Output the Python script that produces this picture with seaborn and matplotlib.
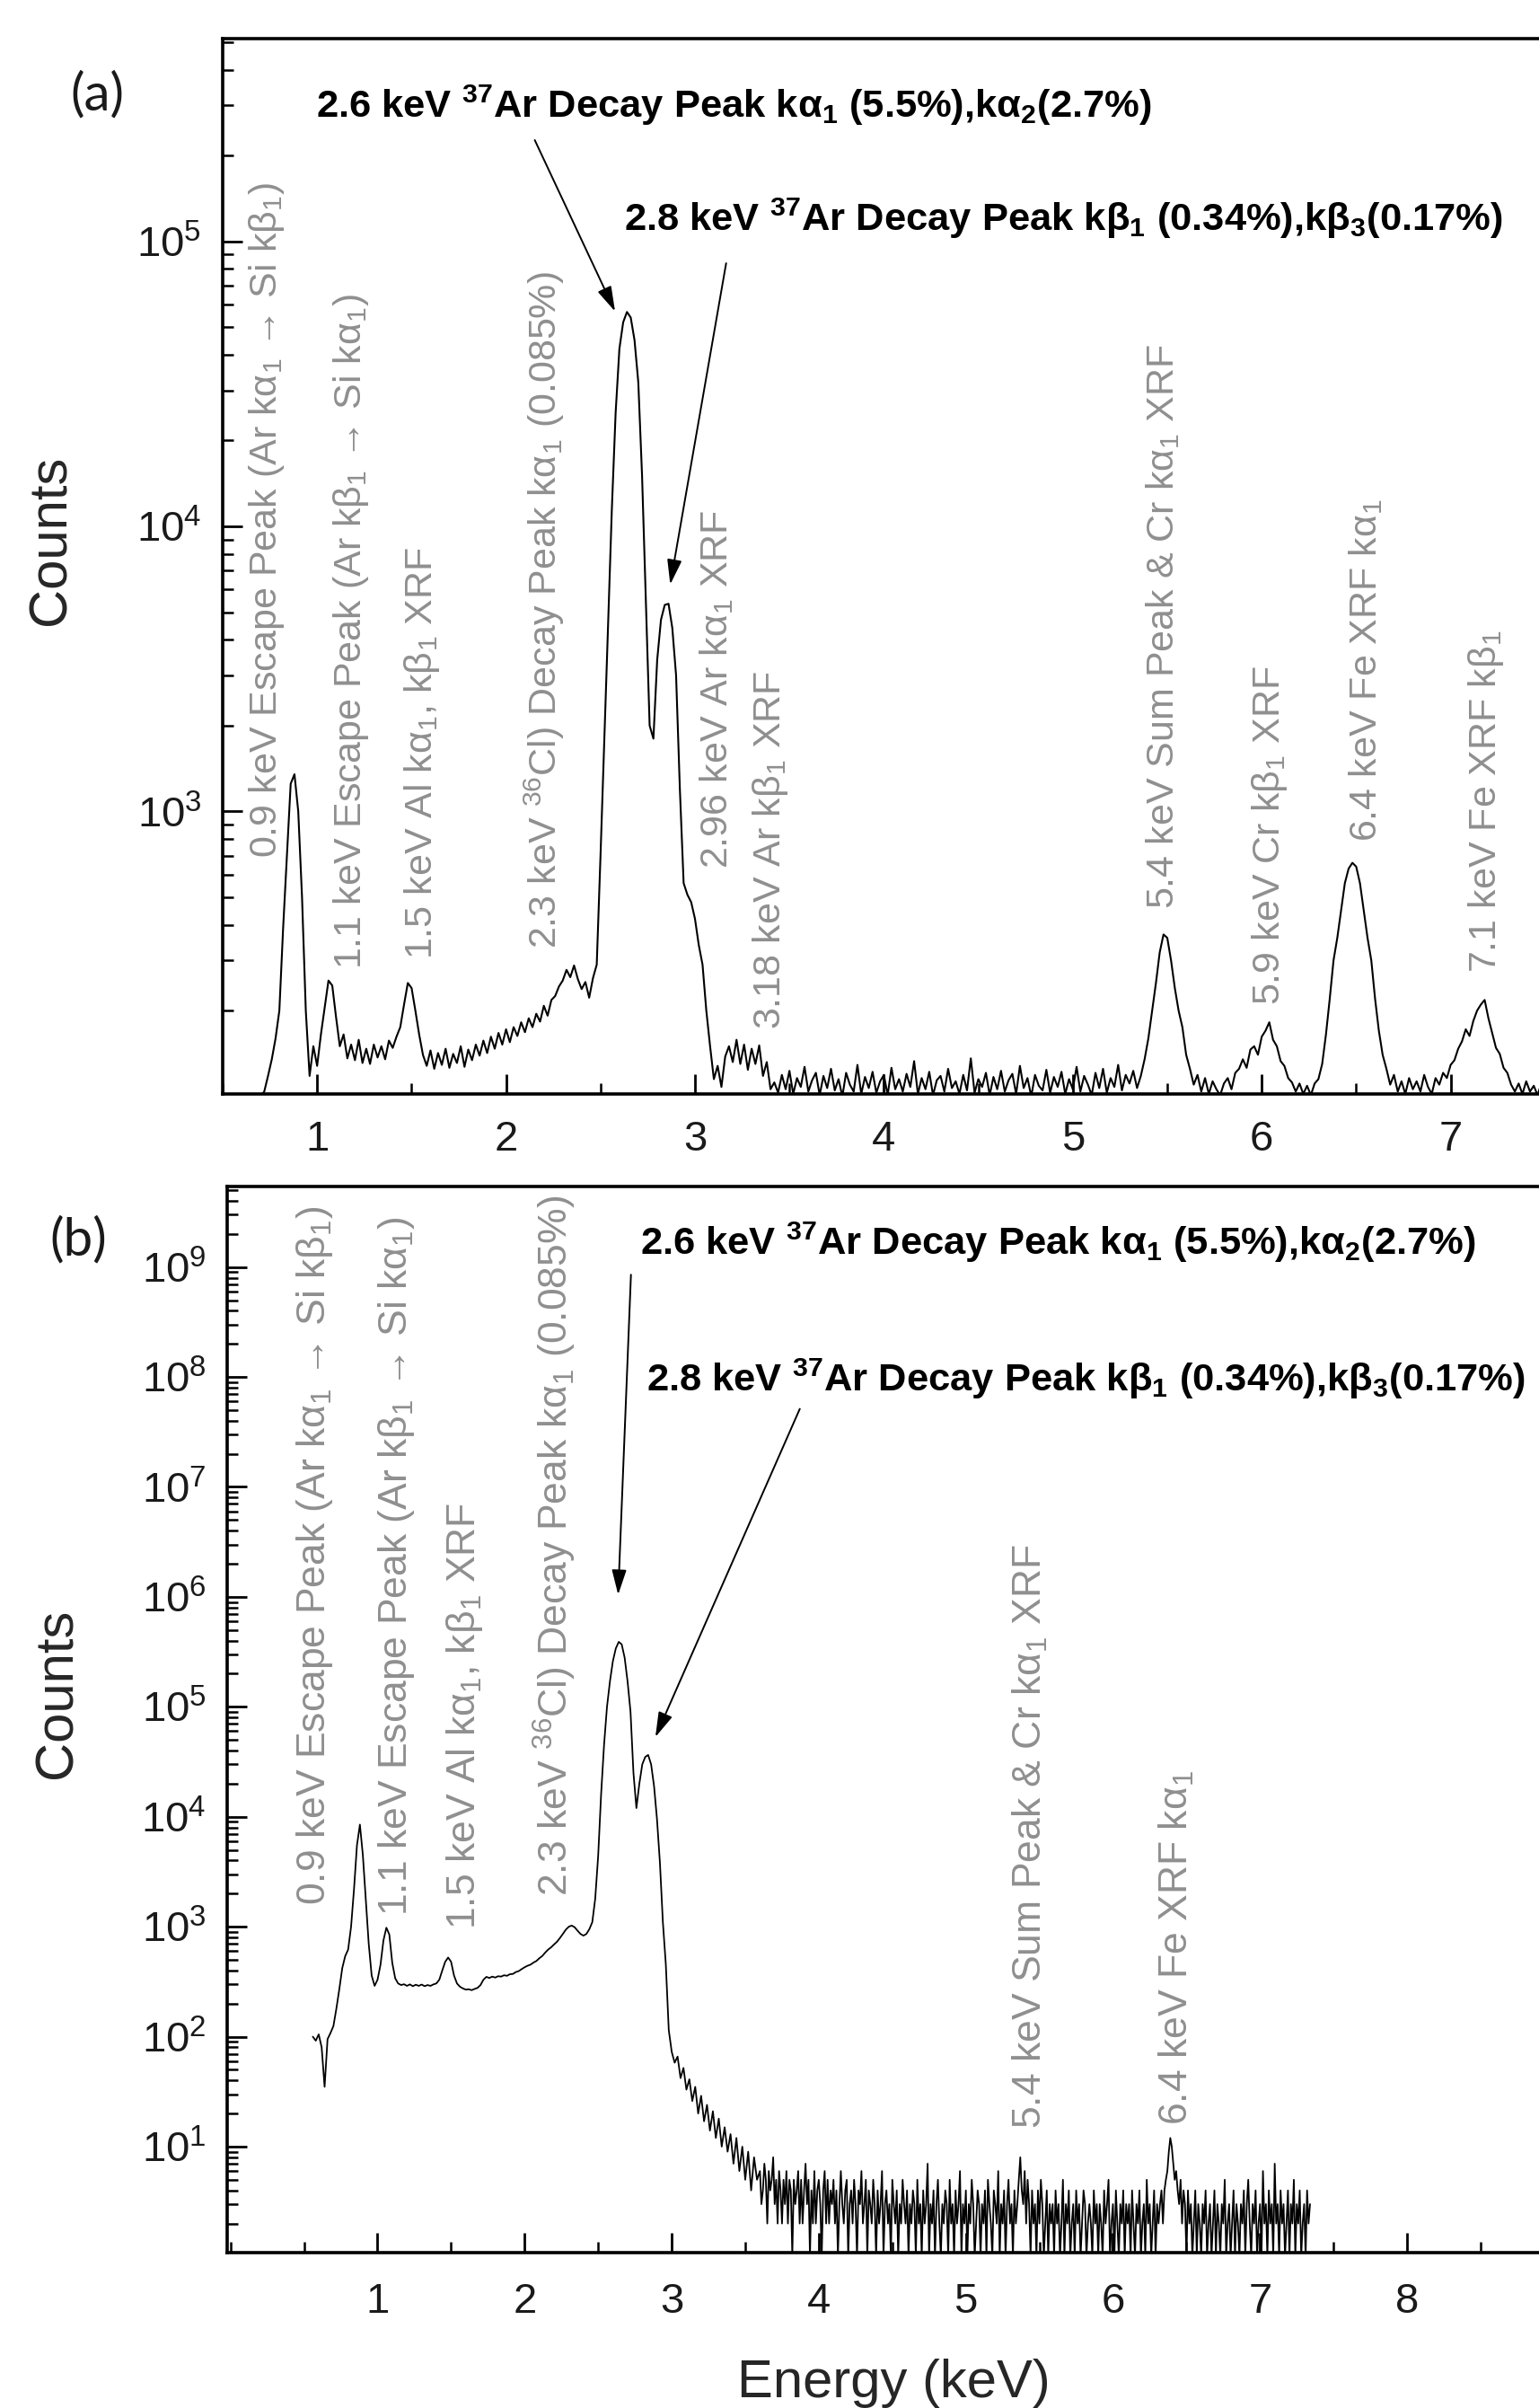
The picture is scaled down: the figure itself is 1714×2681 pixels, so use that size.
import numpy as np
import seaborn as sns
import matplotlib
matplotlib.use("Agg")
from matplotlib import pyplot as plt
from matplotlib.ticker import MultipleLocator, FixedLocator, LogLocator, NullFormatter

sns.set_style("ticks")
plt.rcParams['font.family'] = ['Liberation Sans', 'DejaVu Sans']
plt.rcParams['mathtext.fontset'] = 'custom'
plt.rcParams['mathtext.rm'] = 'Liberation Sans'
plt.rcParams['mathtext.it'] = 'Liberation Sans:italic'
plt.rcParams['mathtext.bf'] = 'Liberation Sans:bold'
plt.rcParams['mathtext.default'] = 'regular'

# ---- spectrum (a): channels every 0.02 keV starting at 0.70 keV ----
a_start, a_step = 0.70, 0.02
counts_a = [
    100, 104, 118, 135, 160, 200, 390, 700, 1250, 1350,          # 0.70
    1000, 500, 200, 118, 150, 128, 165, 205, 255, 245,           # 0.90
    190, 150, 165, 136, 152, 134, 158, 131, 147, 130,            # 1.10
    152, 137, 150, 135, 157, 148, 162, 175, 210, 250,            # 1.30
    240, 200, 165, 140, 128, 145, 125, 142, 129, 147,            # 1.50
    126, 141, 131, 150, 127, 146, 134, 152, 139, 157,            # 1.70
    142, 162, 147, 167, 152, 172, 155, 175, 163, 182,            # 1.90
    168, 188, 175, 195, 183, 208, 192, 218, 225, 243,            # 2.10
    255, 278, 262, 288, 258, 238, 252, 222, 260, 290,            # 2.30
    700, 1760, 4500, 11500, 25000, 42000, 52000, 56500, 54000, 45000,  # 2.50
    32000, 15000, 5500, 2000, 1800, 3400, 4700, 5300, 5350, 4400,      # 2.70
    3000, 1200, 560, 510, 480, 420, 340, 290, 200, 150,          # 2.90
    115, 128, 108, 138, 150, 132, 158, 130, 152, 124,            # 3.10
    147, 130, 151, 118, 132, 106,                                # 3.30
    112, 103, 119, 106, 123, 102, 116, 108, 127, 104,            # 3.42
    114, 121, 101, 118, 107, 125, 105, 115, 100, 121,
    110, 104, 129, 102, 117, 107, 122, 103, 113, 119,
    101, 126, 106, 115, 104, 120, 108, 133, 102, 116,
    106, 122, 101, 114, 118, 104, 125, 107, 113, 102,
    119, 105, 136, 103, 115, 108, 121, 101, 117, 106,
    123, 104, 114, 120, 102, 128, 107, 116, 100, 119,
    109, 105, 124, 103, 117, 108, 122, 102, 115, 106,
    127, 104, 118, 110, 101, 121, 107, 125, 103, 116,
    108, 129, 105, 119, 111, 123, 107,                           # ..5.34
    118, 135, 160, 200, 250, 320, 370, 360, 300, 240,            # 5.36
    200, 175, 140, 125, 110, 119, 104, 116, 102, 113,            # 5.56
    106, 101, 111, 116, 106, 121, 125, 135, 126, 146,            # 5.76
    150, 140, 162, 170, 182, 158, 150, 133, 128, 116,            # 5.96
    112, 104, 111, 102, 109, 101, 111, 115, 130, 165,            # 6.16
    220, 300, 360, 450, 560, 630, 660, 640, 560, 450,            # 6.36
    360, 300, 220, 170, 140, 125, 110, 119, 104, 113,            # 6.56
    102, 116, 106, 113, 104, 119, 108, 102, 116, 110,            # 6.76
    121, 116, 129, 134, 147, 156, 172, 163, 184, 200,            # 6.96
    210, 218, 188, 167, 148, 141, 126, 121, 110, 104,            # 7.16
    111, 102, 113, 104, 109, 101, 111,                           # 7.36
]

# ---- spectrum (b): 0.02 keV channels from 0.56 keV, then 0.01 keV tail from 3.60 keV ----
b_start, b_step = 0.56, 0.02
counts_b = [
    100, 92, 105, 80, 35, 95, 108, 125, 180, 270,                # 0.56
    420, 540, 620, 1000, 2200, 5500, 8500, 4500, 1800, 700,      # 0.76
    360, 290, 330, 450, 750, 980, 850, 470, 340, 305,            # 0.96
    295, 300, 290, 299, 288, 297, 290, 298, 288, 295,            # 1.16
    290, 299, 305, 330, 400, 480, 525, 480, 360, 305,            # 1.36
    285, 275, 268, 270, 265, 272, 278, 295, 330, 350,            # 1.56
    342, 352, 345, 355, 352, 362, 358, 370, 372, 387,            # 1.76
    395, 412, 428, 442, 452, 472, 488, 517, 542, 582,            # 1.96
    620, 650, 690, 730, 790, 860, 940, 1000, 1025, 990,          # 2.16
    920, 860, 830, 860, 950, 1100, 1800, 4400, 16000, 45000,     # 2.36
    100000, 170000, 260000, 340000, 390000, 370000, 280000, 170000, 90000, 25000,  # 2.56
    12000, 20000, 30000, 35000, 36500, 30000, 19000, 9500, 3800, 1100,            # 2.76
    455, 115, 73, 58, 66, 42, 52, 33, 41, 26,                    # 2.96
    35, 20, 29, 17, 24, 14, 21, 12, 18, 10,                      # 3.16
    15, 9, 13, 7, 12, 6, 10, 5, 9, 4,                            # 3.36
    8, 5,                                                        # 3.56
]
tail_start, tail_step = 3.60, 0.01
tail_b = [
    6, 3, 4, 7, 5, 2, 6, 4, 5, 8, 3, 5, 2, 6, 4, 2, 5, 3, 6, 2, 5, 4, 1, 5, 3,   # 3.60
    4, 6, 2, 5, 2, 4, 7, 3, 5, 1, 4, 2, 6, 2, 4, 5, 3, 1, 4, 6, 2, 5, 2, 4, 3,   # 3.85
    5, 2, 4, 1, 3, 6, 3, 2, 4, 5, 1, 3, 4, 2, 5, 3, 1, 4, 3, 6, 2, 3, 5, 1, 4,   # 4.10
    3, 2, 5, 3, 1, 4, 2, 3, 6, 1, 3, 4, 2, 3, 1, 5, 3, 2, 4, 1, 3, 2, 5, 3, 2,   # 4.35
    4, 1, 3, 2, 4, 3, 1, 5, 2, 3, 1, 4, 2, 3, 7, 1, 3, 2, 4, 1, 3, 5, 2, 1, 3,   # 4.60
    2, 4, 3, 1, 5, 2, 3, 1, 4, 2, 3, 6, 1, 3, 2, 4, 1, 3, 2, 5, 3, 1, 2, 4, 3,   # 4.85
    1, 3, 2, 4, 1, 5, 3, 2, 1, 4, 3, 2, 6, 1, 3, 2, 4, 1, 3, 5, 2, 3, 1, 4, 2,   # 5.10
    3, 5, 8, 4, 3, 6, 2, 5, 3, 1, 4, 2, 3, 1, 4, 2, 5, 3, 1, 2, 4, 1, 3, 2, 3,   # 5.35
    1, 4, 2, 3, 1, 2, 5, 1, 3, 2, 4, 1, 2, 3, 1, 4, 2, 3, 1, 2, 4, 3, 1, 2, 3,   # 5.60
    2, 1, 4, 2, 3, 1, 3, 2, 1, 4, 2, 3, 5, 1, 2, 3, 1, 4, 2, 1, 3, 2, 4, 1, 3,   # 5.85
    2, 3, 1, 4, 2, 1, 3, 2, 4, 1, 2, 3, 1, 5, 2, 3, 1, 2, 4, 1, 3, 2, 3, 4, 2,   # 6.10
    4, 5, 6, 9, 12, 10, 7, 5, 6, 4, 3, 5, 2, 4, 3, 1, 4, 2, 3, 1, 2, 4, 1, 3, 2, # 6.35
    1, 3, 2, 4, 1, 2, 3, 1, 2, 4, 1, 3, 2, 1, 3, 2, 5, 1, 2, 3, 1, 2, 4, 1, 3,   # 6.60
    2, 1, 3, 2, 4, 1, 3, 5, 2, 1, 3, 2, 4, 1, 2, 3, 1, 6, 2, 3, 1, 4, 2, 3, 1,   # 6.85
    7, 2, 3, 1, 4, 2, 3, 1, 2, 4, 1, 3, 2, 5, 1, 3, 2, 4, 1, 2, 3, 1, 4, 2, 3,   # 7.10
]

# peak labels (grey, vertical)
labels_a = [
    "0.9 keV Escape Peak (Ar kα$_1$ → Si kβ$_1$)",
    "1.1 keV Escape Peak (Ar kβ$_1$ → Si kα$_1$)",
    "1.5 keV Al kα$_1$, kβ$_1$ XRF",
    "2.3 keV $^{36}$Cl) Decay Peak kα$_1$ (0.085%)",
    "2.96 keV Ar kα$_1$ XRF",
    "3.18 keV Ar kβ$_1$ XRF",
    "5.4 keV Sum Peak & Cr kα$_1$ XRF",
    "5.9 keV Cr kβ$_1$ XRF",
    "6.4 keV Fe XRF kα$_1$",
    "7.1 keV Fe XRF kβ$_1$",
]
labels_b = [labels_a[0], labels_a[1], labels_a[2], labels_a[3], labels_a[6], labels_a[8]]
peak_26 = "2.6 keV $^{37}$Ar Decay Peak kα$_1$ (5.5%),kα$_2$(2.7%)"
peak_28 = "2.8 keV $^{37}$Ar Decay Peak kβ$_1$ (0.34%),kβ$_3$(0.17%)"

e_a = np.round(a_start + a_step * np.arange(len(counts_a)), 3)
e_b = np.concatenate([
    np.round(b_start + b_step * np.arange(len(counts_b)), 3),
    np.round(tail_start + tail_step * np.arange(len(tail_b)), 3),
])
c_b = np.array(counts_b + tail_b, dtype=float)

# label anchor positions (keV, log10 counts)
pos_a = [(0.733, 2.836), (1.18, 2.447), (1.555, 2.482), (2.205, 2.52), (3.115, 2.80),
         (3.40, 2.235), (5.475, 2.657), (6.04, 2.32), (6.55, 2.893), (7.185, 2.434)]
pos_b = [(0.575, 3.20), (1.13, 3.10), (1.595, 2.98), (2.208, 3.28), (5.44, 1.163), (6.43, 1.20)]

GREY = '#8f8f8f'
W, H = 1714, 2681
fig = plt.figure(figsize=(W / 100, H / 100), dpi=100)
ax_a = fig.add_axes([248 / W, 1 - 1218 / H, 1578 / W, 1175 / H])
ax_b = fig.add_axes([253.4 / W, 1 - 2508 / H, 1641.3 / W, 1187 / H])

sns.lineplot(x=e_a, y=np.array(counts_a, dtype=float), ax=ax_a, color='black',
             linewidth=1.5, estimator=None)
sns.lineplot(x=e_b, y=c_b, ax=ax_b, color='black', linewidth=1.3, estimator=None)


def style(ax, xpad):
    ax.set_yscale('log')
    for s in ax.spines.values():
        s.set_linewidth(2.6)
        s.set_color('black')
    ax.tick_params(which='both', direction='in', top=False, right=False, color='black')
    ax.tick_params(which='major', length=16, width=2.0, labelsize=34, labelcolor='#1a1a1a')
    ax.tick_params(which='minor', length=8.5, width=1.8)
    ax.tick_params(axis='x', which='major', pad=xpad)
    ax.tick_params(axis='y', which='major', pad=17)
    ax.xaxis.set_minor_locator(MultipleLocator(0.5))
    ax.yaxis.set_minor_locator(LogLocator(base=10, subs=np.arange(2, 10), numticks=100))
    ax.yaxis.set_minor_formatter(NullFormatter())
    ax.set_ylabel('Counts', fontsize=43)
    ax.yaxis.label.set_va('center')
    ax.set_xlabel('')


style(ax_a, 21)
ax_a.set_xlim(0.5, 8.0)
ax_a.set_ylim(102, 5.14e5)
ax_a.xaxis.set_major_locator(FixedLocator([1, 2, 3, 4, 5, 6, 7]))
ax_a.yaxis.set_major_locator(FixedLocator([1e3, 1e4, 1e5]))
ax_a.yaxis.set_label_coords(-0.121, 0.525)

style(ax_b, 24)
ax_b.set_xlim(-0.02, 10)
ax_b.set_ylim(1.087, 5.4e9)
ax_b.xaxis.set_major_locator(FixedLocator([1, 2, 3, 4, 5, 6, 7, 8]))
ax_b.yaxis.set_major_locator(LogLocator(base=10, numticks=20))
ax_b.yaxis.set_label_coords(-0.1151, 0.5244)
ax_b.set_xlabel('Energy (keV)', fontsize=43)
ax_b.xaxis.set_label_coords(0.4518, -0.1222)
ax_b.xaxis.label.set_va('center')

for ax, labels, pos, fs in [(ax_a, labels_a, pos_a, 31), (ax_b, labels_b, pos_b, 32)]:
    for txt, (x, ly) in zip(labels, pos):
        ax.text(x, 10 ** ly, txt, rotation=90, ha='center', va='bottom', color=GREY,
                fontsize=fs, family=['Liberation Sans', 'DejaVu Sans'])

bold_font = dict(fontsize=31.3, fontweight='bold', family=['Liberation Sans', 'DejaVu Sans'],
                 ha='left', va='baseline', color='black')
arrow = dict(arrowstyle='-|>,head_length=0.85,head_width=0.25', color='black', lw=1.4,
             mutation_scale=20, shrinkA=0, shrinkB=0)

ax_a.text(0.994, 10 ** 5.434, peak_26, **bold_font)
ax_a.text(2.625, 10 ** 5.036, peak_28, **bold_font)
ax_a.annotate('', xy=(2.577, 10 ** 4.754), xytext=(2.152, 10 ** 5.355), arrowprops=arrow)
ax_a.annotate('', xy=(2.869, 10 ** 3.796), xytext=(3.165, 10 ** 4.923), arrowprops=arrow)

ax_b.text(2.783, 10 ** 9.113, peak_26, **bold_font)
ax_b.text(2.83, 10 ** 7.869, peak_28, **bold_font)
ax_b.annotate('', xy=(2.636, 10 ** 6.02), xytext=(2.723, 10 ** 8.93), arrowprops=arrow)
ax_b.annotate('', xy=(2.889, 10 ** 4.725), xytext=(3.871, 10 ** 7.71), arrowprops=arrow)

fig.text(108 / W, 1 - 106 / H, '(a)', fontsize=42, family=['Lato', 'DejaVu Sans'],
         ha='center', va='center', color='#1a1a1a')
fig.text(87 / W, 1 - 1381 / H, '(b)', fontsize=42, family=['Lato', 'DejaVu Sans'],
         ha='center', va='center', color='#1a1a1a')

fig.savefig('out.png', dpi=100)
